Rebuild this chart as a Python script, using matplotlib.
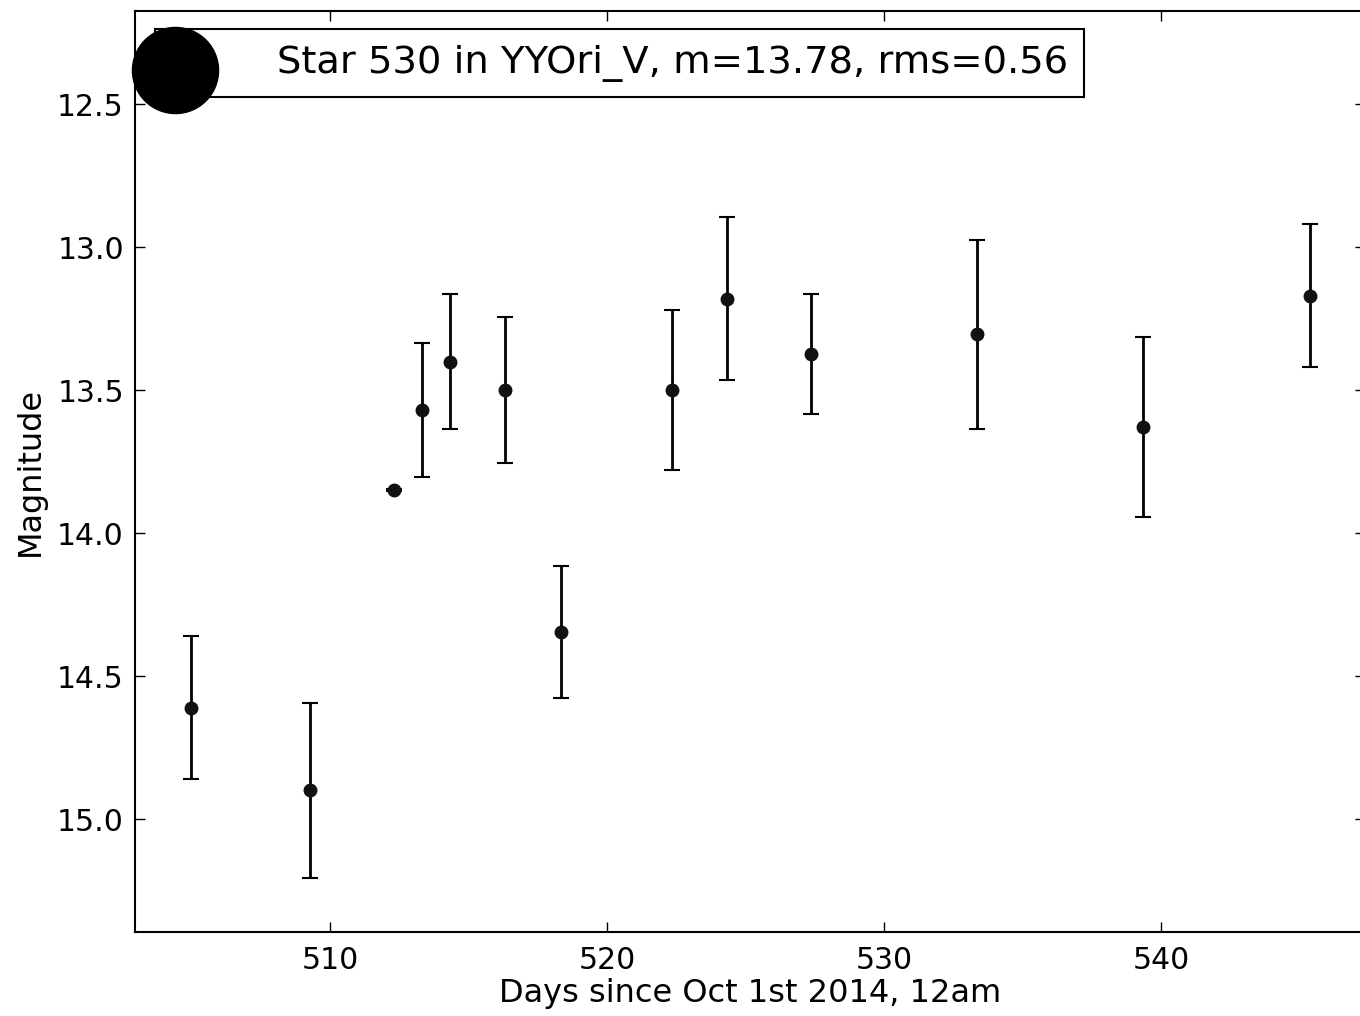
import matplotlib
matplotlib.use("Agg")
import matplotlib.pyplot as plt
from matplotlib.lines import Line2D
from matplotlib.legend_handler import HandlerLine2D

# light curve
days = [504.98, 509.28, 512.31, 513.32, 514.33, 516.32, 518.34,
        522.35, 524.33, 527.36, 533.36, 539.35, 545.38]
mags = [14.61, 14.90, 13.85, 13.57, 13.40, 13.50, 14.345,
        13.50, 13.18, 13.375, 13.305, 13.63, 13.17]
errs = [0.25, 0.305, 0.004, 0.235, 0.235, 0.255, 0.23,
        0.28, 0.285, 0.21, 0.33, 0.315, 0.25]
label = "Star 530 in YYOri_V, m=13.78, rms=0.56"

plt.rcParams.update({
    "font.family": "DejaVu Sans",
    "xtick.direction": "in", "ytick.direction": "in",
    "xtick.top": True, "ytick.right": True,
    "xtick.major.size": 7, "ytick.major.size": 7,
    "xtick.major.width": 1, "ytick.major.width": 1,
    "xtick.major.pad": 10, "ytick.major.pad": 8,
    "axes.linewidth": 1.5,
})


class LowMarker(HandlerLine2D):
    # the big legend dot sits a bit below the text line in the original
    def create_artists(self, legend, orig_handle, xdescent, ydescent,
                       width, height, fontsize, trans):
        return super().create_artists(legend, orig_handle, xdescent,
                                      ydescent + 16, width, height,
                                      fontsize, trans)


fig = plt.figure(figsize=(13.6, 10.16), dpi=100)
ax = fig.add_axes([0.0993, 0.0827, 0.9044, 0.9065])

ax.errorbar(days, mags, yerr=errs, fmt="o", color="#111111", ecolor="black",
            markersize=9, elinewidth=2, capsize=6, capthick=1.5)

ax.set_xlim(502.96, 547.36)
ax.set_ylim(15.395, 12.174)
ax.set_xticks([510, 520, 530, 540])
ax.set_yticks([12.5, 13.0, 13.5, 14.0, 14.5, 15.0])
ax.set_yticklabels(["12.5", "13.0", "13.5", "14.0", "14.5", "15.0"])
ax.tick_params(labelsize=21.5)
ax.set_xlabel("Days since Oct 1st 2014, 12am", fontsize=23, labelpad=2)
ax.set_ylabel("Magnitude", fontsize=23, labelpad=8)

handle = Line2D([], [], ls="none", marker="o", color="black", markersize=62)
leg = ax.legend([handle], [label], loc="upper left",
                handler_map={Line2D: LowMarker()},
                bbox_to_anchor=(0.0163, 0.9805), borderaxespad=0,
                fontsize=27.7, handlelength=0.2, handletextpad=2.55,
                borderpad=0.41, fancybox=False, framealpha=1)
leg.get_frame().set_edgecolor("black")
leg.get_frame().set_linewidth(1.5)

fig.savefig("out.png", dpi=100)
